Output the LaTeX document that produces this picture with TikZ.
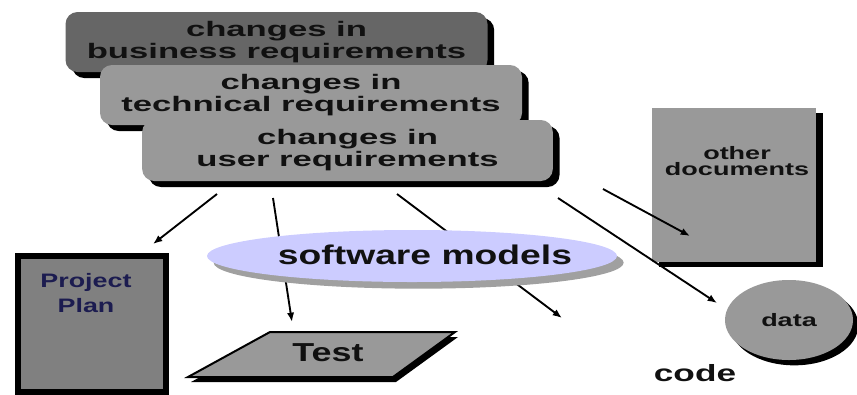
\documentclass[tikz,border=0pt]{standalone}
\usepackage{fontspec}
\newfontfamily\slidefont{Liberation Sans}[FakeStretch=1.5]
\newfontfamily\midfont{Liberation Sans}[FakeStretch=1.38]
\newfontfamily\reqfont{Liberation Sans}[FakeStretch=1.65]
\usepackage{tikz}
\usetikzlibrary{arrows.meta,positioning,calc,shapes.geometric,shadows}
\definecolor{grisF}{HTML}{666666}
\definecolor{grisM}{HTML}{999999}
\definecolor{grisP}{HTML}{808080}
\definecolor{lavande}{HTML}{CCCCFF}
\definecolor{ombre}{HTML}{A0A0A0}
\definecolor{encre}{HTML}{111111}
\definecolor{nuit}{HTML}{1C1C50}
\newcommand{\serre}{\lineskiplimit-20pt\relax}
\tikzset{
  req/.style={rectangle, rounded corners=9pt, fill=#1, minimum width=316.5pt, minimum height=45pt,
              align=center, text=encre, font=\reqfont\bfseries\fontsize{15.75pt}{16.5pt}\selectfont\serre,
              general shadow={fill=black, shadow xshift=5pt, shadow yshift=-4.5pt}},
  lbl/.style 2 args={align=center, text=encre, font=\slidefont\bfseries\fontsize{#1}{#2}\selectfont\serre},
  mlbl/.style 2 args={align=center, text=encre, font=\midfont\bfseries\fontsize{#1}{#2}\selectfont\serre},
  arr/.style={-{Latex[length=7pt,width=5.5pt]}, line width=1.4pt, draw=black},
}
\begin{document}
\begin{tikzpicture}[x=0.75pt, y=-0.75pt]
    \useasboundingbox (0,0) rectangle (857,394);
    \node[req=grisF] (bus) at (276.5,42) {changes in\\business requirements};
    \node[req=grisM] (tech) at (311,95) {changes in\\technical requirements};
    \node[req=grisM, minimum width=308pt, minimum height=45.75pt] (user) at (347.5,150.5) {changes in\\user requirements};
    \node[rectangle, fill=grisM, minimum width=123pt, minimum height=115.5pt,
          general shadow={fill=black, shadow xshift=5.25pt, shadow yshift=-3.75pt}] (docs) at (734,185) {};
    \node[lbl={13.5pt}{12.5pt}] (docslbl) at (737,161) {other\\documents};
    \node[ellipse, fill=grisM, minimum width=96pt, minimum height=60pt, lbl={13.5pt}{15pt},
          general shadow={fill=black, shadow xshift=4pt, shadow yshift=-4pt}] (data) at (789,320) {data};
    \node[lbl={17.6pt}{20pt}] (code) at (695,373) {code};
    \node[rectangle, draw=black, line width=4.5pt, fill=grisP, minimum width=111pt, minimum height=102pt] (plan) at (92,324) {};
    \node[mlbl={14.6pt}{18.75pt}, text=nuit] (planlbl) at (86,293) {Project\\Plan};
    \coordinate (tnw) at (270,332); \coordinate (tne) at (455,332);
    \coordinate (tse) at (393,377); \coordinate (tsw) at (188,377);
    \fill[black] ([shift={(3,5)}]tnw) -- ([shift={(3,5)}]tne) -- ([shift={(3,5)}]tse) -- ([shift={(3,5)}]tsw) -- cycle;
    \filldraw[fill=grisM, draw=black, line width=1.5pt] (tnw) -- (tne) -- (tse) -- (tsw) -- cycle;
    \node[mlbl={19.5pt}{21pt}] (test) at (328,353) {Test};
    \coordinate (p1) at (217,194); \coordinate (q1) at (153,244);
    \coordinate (p2) at (273,198); \coordinate (q2) at (292,322);
    \coordinate (p3) at (397,194); \coordinate (q3) at (562,318);
    \coordinate (p4) at (558,198); \coordinate (q4) at (717,303);
    \coordinate (p5) at (603,189); \coordinate (q5) at (690,236);
    \draw[arr](p1)--(q1); \draw[arr](p2)--(q2); \draw[arr](p3)--(q3); \draw[arr](p4)--(q4); \draw[arr](p5)--(q5);
    \node[ellipse, fill=lavande, minimum width=307.5pt, minimum height=39pt,
          general shadow={fill=ombre, shadow xshift=5pt, shadow yshift=-5pt}] (models) at (412,256) {};
    \node[mlbl={20.25pt}{22pt}] (modelslbl) at (425,255) {software models};
  \end{tikzpicture}
\end{document}
